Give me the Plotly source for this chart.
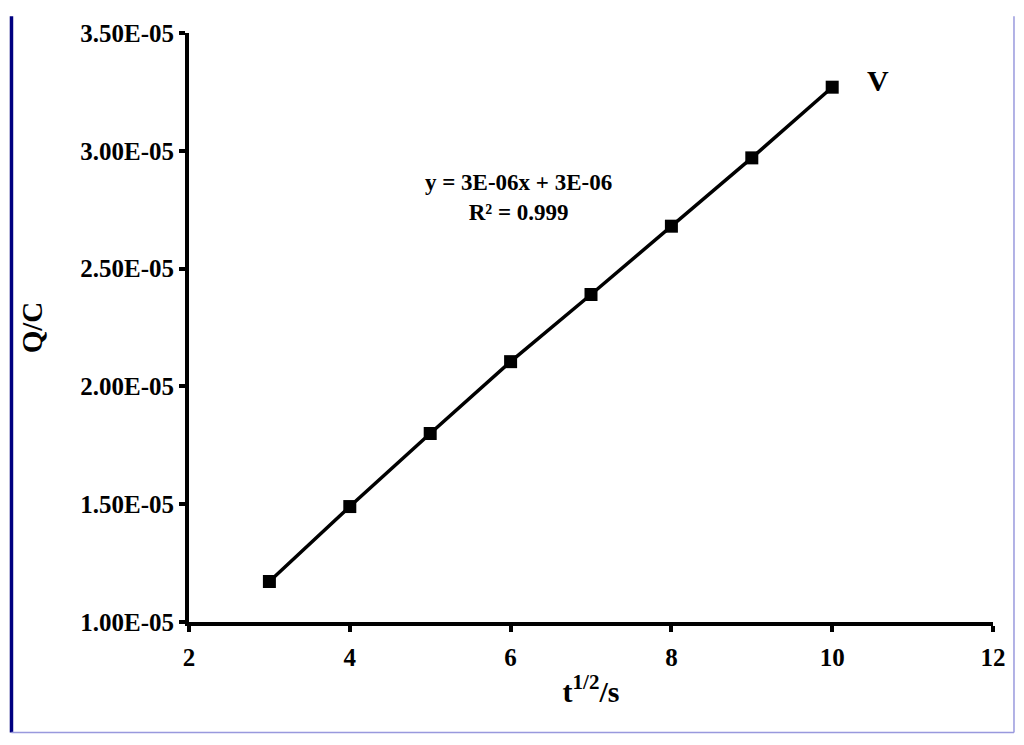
import plotly.graph_objects as go

x_vals = [3, 4, 5, 6, 7, 8, 9, 10]
q_vals = [1.172e-5, 1.49e-5, 1.80e-5, 2.105e-5, 2.39e-5, 2.68e-5, 2.97e-5, 3.27e-5]

y_tickvals = [1.0e-5, 1.5e-5, 2.0e-5, 2.5e-5, 3.0e-5, 3.5e-5]
y_ticktext = ["1.00E-05", "1.50E-05", "2.00E-05", "2.50E-05", "3.00E-05", "3.50E-05"]
x_tickvals = [2, 4, 6, 8, 10, 12]

FONT = "Liberation Serif, Times New Roman, serif"

fig = go.Figure()
fig.add_trace(go.Scatter(
    x=x_vals, y=q_vals, mode="lines+markers",
    line=dict(color="black", width=3.5),
    marker=dict(symbol="square", size=13, color="black"),
    showlegend=False,
))

fig.add_annotation(x=6.1, y=2.80e-5, text="y = 3E-06x + 3E-06<br>R² = 0.999",
                   showarrow=False, font=dict(family=FONT, size=23, color="black", weight="bold"),
                   align="center")
fig.add_annotation(x=10.57, y=3.30e-5, text="V", showarrow=False,
                   font=dict(family=FONT, size=30, color="black", weight="bold"))

# border lines
fig.add_shape(type="line", xref="paper", yref="paper", x0=-0.2208, x1=-0.2208, y0=1.0285, y1=-0.1876,
              line=dict(color="#000080", width=3.5))
fig.add_shape(type="line", xref="paper", yref="paper", x0=-0.2208, x1=1.0261, y0=-0.1876, y1=-0.1876,
              line=dict(color="#9999dd", width=1.5))
fig.add_shape(type="line", xref="paper", yref="paper", x0=1.0261, x1=1.0261, y0=1.0285, y1=-0.1876,
              line=dict(color="#9999dd", width=1.5))

fig.update_xaxes(range=[2, 12], tickvals=x_tickvals, showgrid=False, zeroline=False,
                 showline=True, linecolor="black", linewidth=4,
                 ticks="outside", ticklen=6, tickwidth=4, tickcolor="black",
                 ticklabelstandoff=4,
                 tickfont=dict(family=FONT, size=25, color="black", weight="bold"),
                 title=dict(text="t<sup>1/2</sup>/s", standoff=12,
                            font=dict(family=FONT, size=30, color="black", weight="bold")))
fig.update_yaxes(range=[1.0e-5, 3.5e-5], tickvals=y_tickvals, ticktext=y_ticktext,
                 showgrid=False, zeroline=False,
                 showline=True, linecolor="black", linewidth=4,
                 ticks="outside", ticklen=6, tickwidth=4, tickcolor="black",
                 ticklabelstandoff=0,
                 tickfont=dict(family=FONT, size=25, color="black", weight="bold"),
                 title=dict(text="Q/C", standoff=30,
                            font=dict(family=FONT, size=29, color="black", weight="bold")))

fig.update_layout(width=1024, height=745, margin=dict(l=181, r=39, t=17, b=131),
                  plot_bgcolor="white", paper_bgcolor="white")

fig.write_html("out.html")
